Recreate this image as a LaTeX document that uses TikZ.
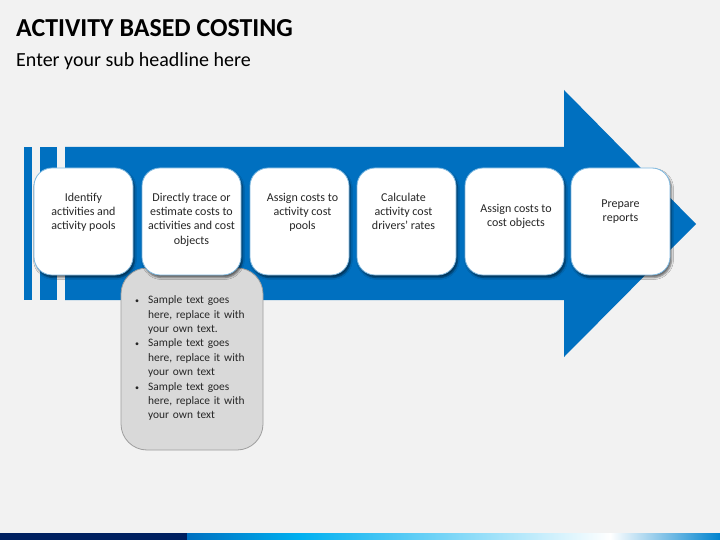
\documentclass[tikz,border=0pt]{standalone}
\usepackage{fontspec}
\setmainfont{Carlito}
\usetikzlibrary{positioning,shadows.blur}
\definecolor{slide}{HTML}{F2F2F2}
\definecolor{arrowblue}{HTML}{0070C0}
\definecolor{cardedge}{HTML}{7DB8E0}
\definecolor{inktext}{HTML}{262626}
\definecolor{navybar}{HTML}{002060}
\definecolor{skybar}{HTML}{00B0F0}
\tikzstyle{stepcard}=[
    draw=cardedge,
    fill=white,
    line width=0.8pt,
    rounded corners=18pt,
    minimum height=107pt,
    minimum width=99pt,
    blur shadow={shadow xshift=1.5pt, shadow yshift=-2.5pt, shadow blur radius=2pt, shadow opacity=60},
  ]
\tikzstyle{steptext}=[
    align=center,
    inner sep=0pt,
    text=inktext,
    font=\fontsize{12}{14.4}\selectfont,
  ]
\tikzstyle{notebox}=[
    draw=black!38,
    fill=black!15,
    line width=0.8pt,
    rounded corners=26pt,
    minimum height=182pt,
    minimum width=142pt,
  ]
\tikzstyle{band}=[
    fill=arrowblue,
  ]

\begin{document}
\begin{tikzpicture}[x=1pt, y=-1pt]
      \useasboundingbox[fill=slide] (0, 0) rectangle (720, 540);
      \node[anchor=base west, inner sep=0pt, font=\fontsize{25.9}{28}\selectfont\bfseries, text=black] (title) at (16, 37) {ACTIVITY BASED COSTING};
      \node[anchor=base west, inner sep=0pt, font=\fontsize{20}{24}\selectfont, text=black] (subtitle) at (16, 66.5) {Enter your sub headline here};
      % arrow and stripes
      \fill[band] (24, 147) rectangle (32, 300);
      \fill[band] (40, 147) rectangle (57, 300);
      \fill[band] (65, 147) -- (564, 147) -- (564, 90) -- (696, 224) -- (564, 357) -- (564, 300) -- (65, 300) -- cycle;
      % grey box goes under the second card
      \node[notebox] (note) at (192, 359) {};
      \node[steptext, anchor=north west, text width=125pt, align=left, font=\fontsize{11.4}{14.4}\selectfont] (notetext) at (134, 289) {%
        \begin{list}{\footnotesize\textbullet}{\leftmargin=14pt\labelwidth=6pt\labelsep=9pt\itemsep=0pt\parsep=0pt\topsep=0pt\partopsep=0pt}
          \item Sample text goes\\here, replace it with\\your own text.
          \item Sample text goes\\here, replace it with\\your own text
          \item Sample text goes\\here, replace it with\\your own text
        \end{list}};
      % cards
      \foreach \cx/\dx/\dy/\txt [count=\i] in {
          83.5/0/25/{Identify\\activities and\\activity pools},
          191.5/0/25/{Directly trace or\\estimate costs to\\activities and cost\\objects},
          299.5/3/25/{Assign costs to\\activity cost\\pools},
          406.5/-3/25/{Calculate\\activity cost\\drivers’ rates},
          514.5/1.5/36/{Assign costs to\\cost objects},
          620.5/0/32/{Prepare\\reports}} {%
        \node[stepcard] (card\i) at (\cx, 221.5) {};
        \node[steptext, anchor=north, xshift=\dx pt, yshift=-\dy pt] (label\i) at (card\i.north) {\txt};
      }
      % bottom bar
      \fill[navybar] (0, 533) rectangle (187, 540);
      \shade[left color=arrowblue, right color=skybar] (187, 533) rectangle (300, 540);
      \shade[left color=skybar, right color=white] (300, 533) rectangle (610, 540);
      \shade[left color=white, right color=arrowblue!70!skybar] (610, 533) rectangle (720, 540);
    \end{tikzpicture}
\end{document}
